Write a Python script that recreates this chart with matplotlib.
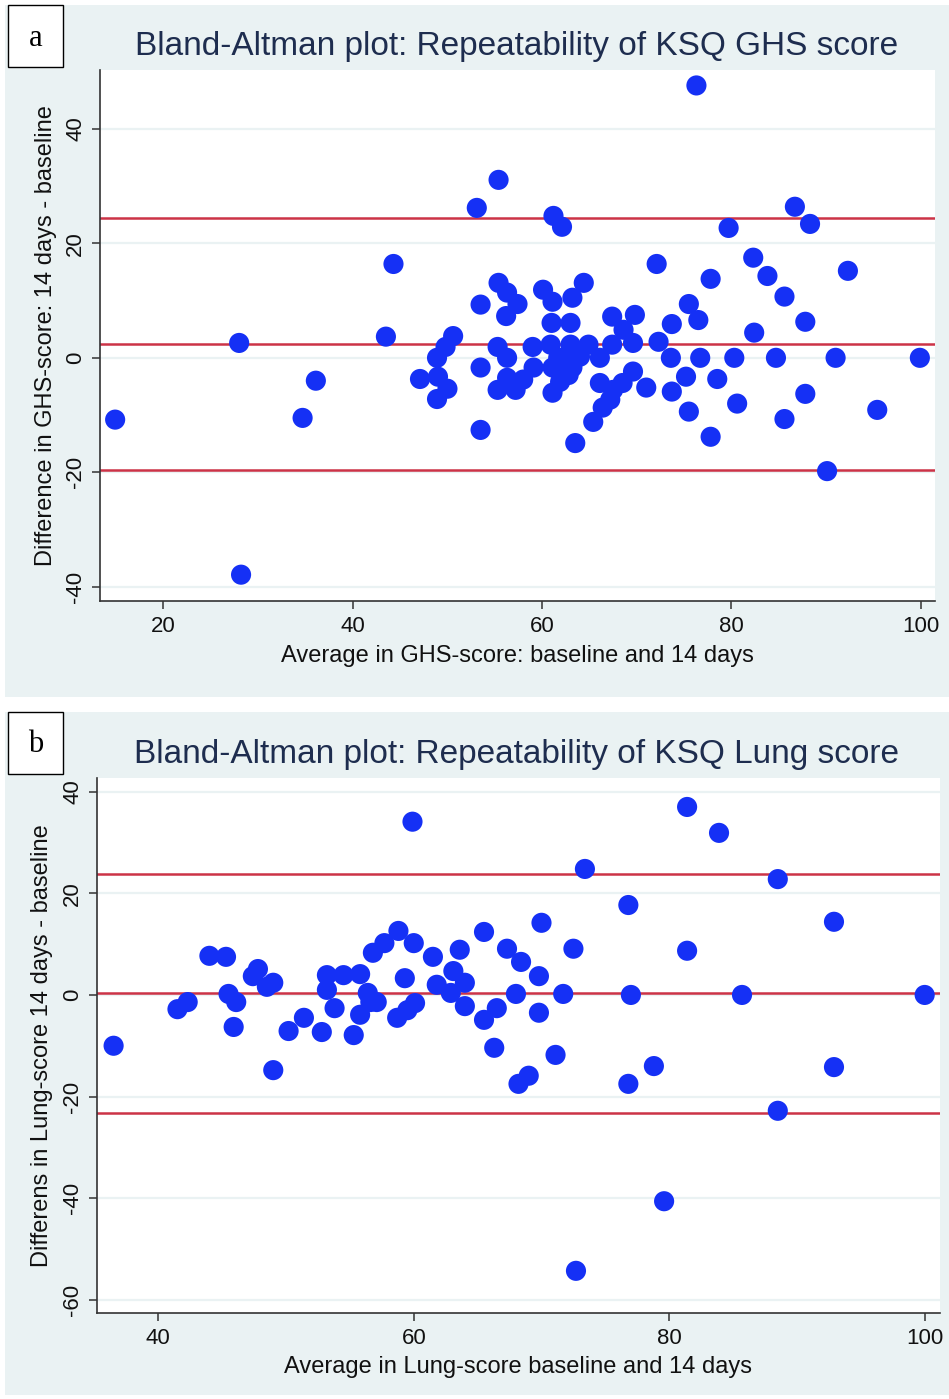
import matplotlib
matplotlib.use("Agg")
import matplotlib.pyplot as plt
from matplotlib.patches import Rectangle

plt.rcParams['font.family'] = ['Liberation Sans', 'DejaVu Sans']
plt.rcParams['axes.unicode_minus'] = False

# panel a: GHS score (average, difference)
ghs_avg = [14.9, 28.0, 28.2, 34.7, 36.1, 43.5, 44.3, 47.1, 48.9, 49.0, 48.9, 49.8,
           50.0, 50.6, 53.1, 53.5, 53.5, 53.5, 55.4, 55.4, 56.3, 57.4, 56.2, 55.3,
           56.3, 55.3, 56.3, 57.2, 58.0, 59.1, 59.0, 60.1, 61.1, 63.2, 64.4, 61.0,
           63.0, 60.9, 63.0, 64.9, 61.1, 62.5, 64.0, 63.2, 61.9, 61.1, 62.0, 62.8,
           61.7, 61.2, 62.1, 66.1, 67.4, 69.6, 72.3, 67.4, 69.8, 68.6, 66.1, 67.5,
           68.5, 69.6, 71.0, 67.2, 66.4, 65.4, 63.5, 72.1, 73.7, 75.5, 76.5, 73.6,
           76.7, 75.2, 73.7, 75.5, 76.3, 86.7, 88.3, 79.7, 82.3, 83.8, 77.8, 92.3,
           85.6, 87.8, 82.4, 80.3, 84.7, 91.0, 99.9, 78.5, 80.6, 87.8, 85.6, 95.4,
           77.8, 90.1]
ghs_diff = [-10.8, 2.6, -37.9, -10.5, -4.0, 3.7, 16.4, -3.7, 0.0, -3.3, -7.2, 1.9,
            -5.4, 3.8, 26.2, 9.3, -1.7, -12.6, 31.1, 13.1, 11.4, 9.4, 7.3, 1.9,
            0.0, -5.6, -3.5, -5.6, -3.8, -1.7, 1.9, 11.9, 9.8, 10.5, 13.1, 6.1,
            6.1, 2.3, 2.3, 2.3, -1.7, 0.2, 0.2, -1.7, -4.2, -6.1, -2.2, -3.0,
            0.0, 24.8, 22.9, 0.0, 2.3, 2.6, 2.8, 7.2, 7.5, 4.9, -4.4, -5.6,
            -4.4, -2.4, -5.2, -7.3, -8.7, -11.2, -14.9, 16.4, 5.9, 9.4, 6.6, 0.0,
            0.0, -3.3, -5.9, -9.4, 47.6, 26.4, 23.4, 22.7, 17.5, 14.3, 13.8, 15.2,
            10.7, 6.3, 4.4, 0.0, 0.0, 0.0, 0.0, -3.7, -8.0, -6.3, -10.7, -9.1,
            -13.8, -19.8]
ghs_lines = [24.5, 2.4, -19.6]   # upper limit, mean, lower limit

# panel b: Lung score (average, difference)
lung_avg = [36.5, 41.5, 42.3, 44.0, 45.3, 45.5, 46.1, 45.9, 47.4, 47.8, 48.5, 49.0,
            49.0, 50.2, 51.4, 52.8, 53.2, 53.2, 53.8, 54.5, 55.8, 55.3, 55.8, 56.4,
            56.6, 57.1, 56.8, 57.7, 58.8, 59.3, 60.0, 58.7, 59.5, 60.1, 59.9, 61.5,
            61.8, 62.9, 63.1, 63.6, 64.0, 64.0, 65.5, 65.5, 66.3, 66.5, 67.3, 68.0,
            68.4, 68.2, 69.0, 69.8, 69.8, 70.0, 71.1, 71.7, 72.5, 72.7, 73.4, 76.8,
            77.0, 76.8, 78.8, 79.6, 81.4, 81.4, 83.9, 85.7, 88.5, 88.5, 92.9, 92.9,
            100.0]
lung_diff = [-10.0, -2.8, -1.4, 7.7, 7.5, 0.2, -1.4, -6.3, 3.7, 5.1, 1.6, 2.4,
             -14.8, -7.1, -4.5, -7.3, 3.9, 1.0, -2.6, 3.9, 4.1, -7.9, -3.9, 0.4,
             -1.4, -1.4, 8.3, 10.2, 12.6, 3.3, 10.2, -4.5, -3.0, -1.6, 34.1, 7.5,
             2.0, 0.4, 4.7, 8.9, 2.4, -2.2, 12.4, -4.9, -10.4, -2.6, 9.1, 0.2,
             6.5, -17.5, -15.9, 3.7, -3.5, 14.2, -11.8, 0.2, 9.1, -54.3, 24.8, 17.7,
             0.0, -17.5, -14.0, -40.6, 37.0, 8.7, 31.9, 0.0, 22.8, -22.8, 14.4, -14.2,
             0.0]
lung_lines = [23.8, 0.3, -23.2]

W, H = 949, 1399
fig = plt.figure(figsize=(W / 100, H / 100), dpi=100)

bg = '#eaf2f3'
dot = '#1530f5'
red = '#cc3347'
navy = '#1e2d4f'
axc = '#333333'


def fx(px):
    return px / W


def fy(py):
    return 1 - py / H


# grey panel backgrounds, behind the axes
fig.patches.append(Rectangle((fx(5), fy(697)), fx(944), 692 / H, transform=fig.transFigure,
                             facecolor=bg, edgecolor='none', zorder=-10))
fig.patches.append(Rectangle((fx(5), fy(1395)), fx(944), 683 / H, transform=fig.transFigure,
                             facecolor=bg, edgecolor='none', zorder=-10))


def letter_box(label, top):
    fig.patches.append(Rectangle((fx(8), fy(top + 62)), fx(55), 62 / H, transform=fig.transFigure,
                                 facecolor='white', edgecolor='black', linewidth=1.0, zorder=5))
    fig.text(fx(35.5), fy(top + 33), label, family='Liberation Serif', fontsize=22,
             ha='center', va='center', zorder=6)


def panel(rect, avg, diff, lines, xlim, ylim, yticks, xticks, title, title_y, xlabel, ylabel, xlab_y):
    left, top, right, bottom = rect
    ax = fig.add_axes([fx(left), fy(bottom), fx(right - left), (bottom - top) / H])
    ax.set_zorder(1)
    ax.set_facecolor('white')
    for yv in yticks:
        ax.axhline(yv, color=bg, linewidth=1.6, zorder=1)
    for yv in lines:
        ax.axhline(yv, color=red, linewidth=1.8, zorder=2)
    ax.scatter(avg, diff, s=210, color=dot, edgecolors='none', zorder=3)
    ax.set_xlim(*xlim)
    ax.set_ylim(*ylim)
    ax.set_xticks(xticks)
    ax.set_yticks(yticks)
    for s in ['top', 'right']:
        ax.spines[s].set_visible(False)
    for s in ['left', 'bottom']:
        ax.spines[s].set_color(axc)
        ax.spines[s].set_linewidth(1.2)
    ax.tick_params(axis='both', colors=axc, labelcolor='#111111', length=6, width=1.1,
                   labelsize=16, pad=5)
    ax.tick_params(axis='y', labelrotation=90, pad=4)
    for t in ax.get_yticklabels():
        t.set_va('center')
    ax.set_xlabel(xlabel, fontsize=17, color='#111111')
    ax.set_ylabel(ylabel, fontsize=17, color='#111111')
    ax.xaxis.set_label_coords(0.5, xlab_y)
    ax.yaxis.set_label_coords(-0.052, 0.5)
    fig.text(fx(517), fy(title_y), title, fontsize=24, color=navy, ha='center', va='center')
    return ax


panel((100, 70, 935, 601), ghs_avg, ghs_diff, ghs_lines, (13.3, 101.5), (-42.5, 50.3),
      [-40, -20, 0, 20, 40], [20, 40, 60, 80, 100],
      'Bland-Altman plot: Repeatability of KSQ GHS score', 47,
      'Average in GHS-score: baseline and 14 days',
      'Difference in GHS-score: 14 days - baseline', -0.083)

panel((97, 778, 940, 1313), lung_avg, lung_diff, lung_lines, (35.2, 101.2), (-62.6, 42.7),
      [-60, -40, -20, 0, 20, 40], [40, 60, 80, 100],
      'Bland-Altman plot: Repeatability of KSQ Lung score', 754,
      'Average in Lung-score baseline and 14 days',
      'Differens in Lung-score 14 days - baseline', -0.080)

letter_box('a', 5)
letter_box('b', 712)

fig.savefig('out.png', dpi=100, facecolor='white')
